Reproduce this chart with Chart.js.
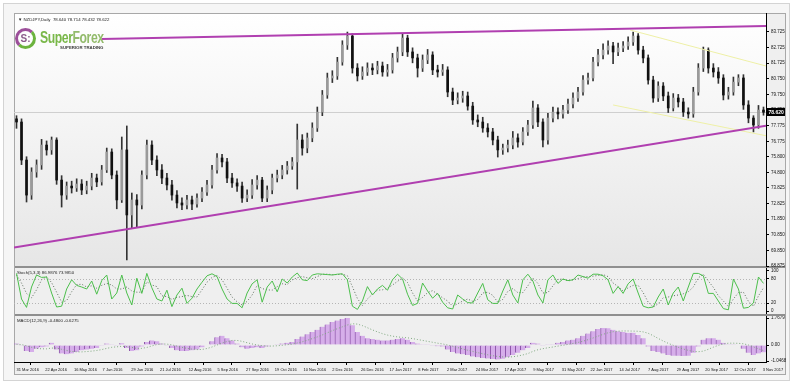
<!DOCTYPE html>
<html>
<head>
<meta charset="utf-8">
<script src="https://cdn.jsdelivr.net/npm/chart.js@4"></script>
<style>
body{margin:0;background:#fff;font-family:"Liberation Sans",Arial,sans-serif;}
#wrap{position:relative;width:800px;height:388px;overflow:hidden;background:#fff}
.abs{position:absolute}
#frame{left:3px;top:3px;width:787px;height:378px;border:1px solid #d4d4d4;background:#f6f6f6;box-sizing:border-box}
#box{left:14px;top:13px;width:772px;height:362px;border:1px solid #a8a8a8;background:#efefef;box-sizing:border-box}
#mainbg{left:15px;top:14px;width:751px;height:252px;background:linear-gradient(#ffffff,#e6e6e6)}
#sep1{left:15px;top:266px;width:770px;height:2px;background:#8f8f8f}
#sep2{left:15px;top:314px;width:770px;height:2px;background:#8f8f8f}
canvas{position:absolute}
.ttl{position:absolute;font-size:6px;color:#222;white-space:nowrap;transform:scale(0.72);transform-origin:left top}
</style>
</head>
<body>
<div id="wrap">
  <div class="abs" id="frame"></div>
  <div class="abs" id="box"></div>
  <div class="abs" id="mainbg"></div>
  <div class="abs" id="sep1"></div>
  <div class="abs" id="sep2"></div>

  <canvas id="cMain" width="772" height="258" style="left:14px;top:13px;width:772px;height:258px"></canvas>
  <canvas id="cStoch" width="772" height="46" style="left:14px;top:268px;width:772px;height:46px"></canvas>
  <canvas id="cMacd" width="772" height="58" style="left:14px;top:316px;width:772px;height:58px"></canvas>

  <div class="ttl" style="left:18px;top:17px">&#9660; NZDJPY,Daily&nbsp; 78.640 78.714 78.432 78.622</div>
  <div class="ttl" style="left:17px;top:270px">Stoch(5,3,3) 86.9876 73.9850</div>
  <div class="ttl" style="left:17px;top:318px">MACD(12,26,9) -0.4800 -0.6275</div>

  <div class="abs" style="left:15px;top:28px">
    <div style="position:absolute;left:0;top:0;width:15px;height:15px;border:3px solid;border-color:#9c4f9a #6cb33e #6cb33e #9c4f9a;border-radius:50%;font:bold 10px 'Liberation Sans';color:#8a5a8a;text-align:center;line-height:15px">S:</div>
    <div style="position:absolute;left:25px;top:0px;font:bold 17px 'Liberation Sans Narrow','Liberation Sans';color:#7ab84a;letter-spacing:-0.6px;transform:scaleX(0.72);transform-origin:left top">Super<span style="color:#93bb6c">Forex</span></div>
    <div style="position:absolute;left:45px;top:17px;font:bold 6px 'Liberation Sans';color:#3a3a3a;white-space:nowrap;transform:scale(0.72);transform-origin:left top">SUPERIOR TRADING</div>
  </div>
</div>

<script>
// NZDJPY daily, sampled about every third session
const firstOpen = 78.20;
const closes = [
  78.00, 75.59, 73.37, 74.83, 75.28, 76.54, 76.23, 76.86, 74.32, 73.37,
  73.94, 73.82, 74.07, 73.69, 73.94, 74.45, 74.20, 74.96, 76.10, 74.64,
  73.06, 76.23, 72.11, 73.06, 72.74, 74.64, 76.54, 75.59, 74.96, 74.45,
  74.01, 73.37, 72.87, 72.74, 73.06, 72.80, 73.18, 73.56, 74.01, 74.96,
  75.72, 75.47, 74.45, 74.14, 73.94, 73.18, 73.37, 74.01, 74.32, 73.18,
  73.69, 74.45, 74.64, 74.96, 75.21, 75.47, 76.86, 76.35, 76.99, 77.62,
  78.63, 79.71, 80.79, 80.92, 81.80, 82.88, 83.45, 81.42, 80.92, 81.17,
  81.42, 81.30, 81.55, 81.17, 81.30, 82.06, 82.44, 83.32, 82.44, 82.06,
  81.42, 81.93, 82.25, 81.30, 81.17, 81.30, 79.90, 79.39, 79.52, 79.65,
  79.01, 78.13, 78.00, 77.62, 77.37, 76.86, 76.23, 76.35, 76.54, 76.99,
  76.73, 77.37, 77.81, 78.89, 78.00, 76.86, 78.25, 78.63, 78.51, 78.76,
  79.14, 79.52, 79.90, 80.66, 80.79, 81.80, 82.25, 82.56, 82.82, 82.44,
  82.69, 82.82, 83.07, 83.45, 82.56, 82.06, 80.66, 79.52, 80.28, 79.65,
  78.89, 79.52, 79.27, 78.63, 78.51, 79.90, 81.42, 82.56, 81.42, 81.17,
  80.79, 79.71, 79.90, 80.53, 80.79, 79.08, 78.25, 77.81, 78.76, 78.62
];
const highs = [
  78.40, 78.20, 75.80, 75.10, 75.60, 76.90, 76.80, 77.05, 77.00, 74.60,
  74.20, 74.25, 74.40, 74.35, 74.25, 74.75, 74.70, 75.25, 76.35, 76.30,
  74.90, 77.05, 77.75, 73.50, 73.40, 74.90, 76.86, 76.80, 75.85, 75.30,
  74.75, 74.30, 73.65, 73.20, 73.35, 73.30, 73.45, 73.85, 74.30, 75.25,
  76.00, 75.95, 75.70, 74.75, 74.40, 74.20, 73.70, 74.35, 74.60, 74.50,
  73.95, 74.70, 74.95, 75.25, 75.50, 75.75, 77.87, 77.20, 77.30, 77.95,
  78.95, 80.00, 81.10, 81.25, 82.10, 83.15, 83.70, 83.60, 81.70, 81.50,
  81.75, 81.70, 81.85, 81.80, 81.65, 82.35, 82.75, 83.58, 83.50, 82.70,
  82.30, 82.25, 82.60, 82.45, 81.60, 81.65, 81.50, 80.15, 79.85, 79.95,
  79.90, 79.25, 78.45, 78.30, 77.90, 77.60, 77.10, 76.60, 76.85, 77.40,
  77.25, 77.65, 78.10, 79.33, 79.10, 78.20, 78.55, 78.95, 78.90, 79.05,
  79.45, 79.85, 80.20, 80.95, 81.10, 82.10, 82.60, 82.95, 83.15, 83.05,
  83.00, 83.10, 83.40, 83.70, 83.60, 82.80, 82.25, 80.90, 80.55, 80.50,
  79.90, 79.80, 79.75, 79.50, 78.90, 80.20, 81.70, 82.75, 82.70, 81.70,
  81.45, 81.00, 80.20, 80.85, 81.00, 81.00, 79.35, 78.40, 79.05, 78.95
];
const lows = [
  77.60, 75.30, 72.93, 73.10, 74.50, 75.00, 75.90, 75.95, 74.05, 72.61,
  73.10, 73.50, 73.60, 73.40, 73.45, 73.70, 73.90, 74.00, 74.80, 74.40,
  72.50, 72.90, 69.26, 71.30, 71.35, 72.50, 74.40, 75.30, 74.60, 74.10,
  73.70, 73.05, 72.55, 72.45, 72.50, 72.45, 72.60, 72.95, 73.35, 73.80,
  74.75, 75.15, 74.15, 73.85, 73.60, 72.90, 72.95, 73.15, 73.75, 72.95,
  72.95, 73.45, 74.20, 74.40, 74.70, 75.00, 73.75, 75.90, 76.05, 76.75,
  77.40, 78.40, 79.50, 80.50, 80.70, 81.60, 82.60, 81.10, 80.60, 80.70,
  80.95, 81.00, 81.05, 80.90, 80.90, 81.10, 81.80, 82.20, 82.15, 81.75,
  80.85, 81.20, 81.70, 81.00, 80.85, 80.95, 79.60, 79.10, 79.15, 79.25,
  78.75, 77.85, 77.70, 77.35, 77.05, 76.55, 75.78, 75.95, 76.10, 76.30,
  76.40, 76.55, 77.15, 77.60, 77.70, 76.42, 76.60, 78.00, 78.20, 78.25,
  78.55, 78.90, 79.30, 79.70, 80.40, 80.60, 81.55, 82.00, 82.30, 81.70,
  82.20, 82.45, 82.60, 82.85, 82.30, 81.75, 80.40, 79.25, 79.30, 79.35,
  78.60, 78.70, 78.95, 78.35, 78.25, 78.30, 79.70, 81.20, 81.10, 80.85,
  80.45, 79.40, 79.45, 79.70, 80.30, 78.80, 77.95, 77.37, 77.60, 78.43
];

const stochMain = [
  94, 30, 9, 60, 90, 84, 85, 45, 10, 12,
  55, 78, 64, 60, 55, 75, 42, 76, 90, 30,
  45, 90, 45, 15, 82, 44, 94, 58, 30, 25,
  52, 11, 40, 57, 19, 32, 55, 72, 88, 93,
  86, 55, 30, 19, 19, 8, 45, 68, 78, 22,
  60, 75, 48, 80, 70, 85, 95, 78, 76, 90,
  93, 92, 91, 90, 92, 93, 78, 12, 4, 25,
  61, 40, 55, 64, 52, 78, 92, 80, 42, 14,
  19, 70, 50, 32, 44, 22, 8, 5, 40, 30,
  21, 20, 45, 69, 28, 19, 19, 50, 78, 40,
  20, 78, 92, 75, 40, 20, 78, 90, 69, 80,
  76, 78, 90, 86, 82, 92, 92, 88, 78, 44,
  61, 44, 68, 80, 45, 12, 8, 10, 35, 55,
  15, 45, 60, 25, 60, 94, 94, 88, 44, 44,
  25, 6, 3, 80, 55, 7, 9, 20, 85, 69
];
const stochSignal = [
  90, 70, 44, 33, 53, 78, 86, 71, 47, 22,
  26, 48, 66, 67, 60, 63, 57, 64, 69, 65,
  55, 55, 60, 50, 47, 47, 73, 65, 61, 38,
  36, 29, 34, 36, 39, 36, 35, 53, 72, 84,
  89, 78, 57, 35, 23, 15, 24, 40, 64, 56,
  53, 52, 61, 68, 66, 78, 83, 86, 83, 81,
  86, 92, 92, 91, 91, 92, 88, 61, 31, 14,
  30, 42, 52, 53, 57, 65, 74, 83, 71, 45,
  25, 34, 46, 51, 42, 33, 25, 12, 18, 25,
  30, 24, 29, 45, 47, 39, 22, 29, 49, 56,
  46, 46, 63, 82, 69, 45, 46, 63, 79, 80,
  75, 78, 81, 85, 86, 87, 89, 91, 86, 70,
  61, 50, 58, 64, 64, 46, 22, 10, 18, 33,
  35, 38, 40, 43, 48, 60, 83, 92, 75, 59,
  38, 25, 11, 30, 46, 47, 24, 12, 38, 58
];

const macdMain = [
  0.10, -0.05, -0.40, -0.45, -0.25, -0.15, -0.10, 0.15, -0.30, -0.55,
  -0.60, -0.55, -0.45, -0.35, -0.30, -0.25, -0.20, -0.05, 0.10, 0.05,
  -0.05, 0.12, -0.20, -0.40, -0.35, -0.10, 0.20, 0.30, 0.25, 0.10,
  -0.05, -0.20, -0.35, -0.40, -0.40, -0.35, -0.30, -0.15, 0.00, 0.25,
  0.50, 0.60, 0.45, 0.30, 0.10, -0.15, -0.25, -0.20, -0.15, -0.20,
  -0.10, 0.00, 0.05, 0.10, 0.15, 0.20, 0.40, 0.55, 0.70, 0.85,
  1.00, 1.20, 1.35, 1.50, 1.60, 1.70, 1.76, 1.30, 0.85, 0.60,
  0.45, 0.40, 0.35, 0.30, 0.30, 0.35, 0.40, 0.45, 0.35, 0.20,
  0.10, 0.05, 0.05, -0.05, -0.08, -0.10, -0.30, -0.45, -0.55, -0.60,
  -0.65, -0.75, -0.80, -0.85, -0.88, -0.92, -0.95, -0.90, -0.80, -0.65,
  -0.50, -0.35, -0.20, 0.15, 0.10, -0.05, 0.02, 0.05, 0.15, 0.20,
  0.30, 0.35, 0.45, 0.60, 0.75, 0.90, 1.05, 1.12, 1.10, 1.00,
  0.90, 0.85, 0.80, 0.80, 0.65, 0.45, -0.10, -0.40, -0.45, -0.55,
  -0.65, -0.70, -0.70, -0.72, -0.70, -0.50, -0.10, 0.35, 0.45, 0.45,
  0.35, 0.15, 0.05, 0.05, 0.00, -0.25, -0.50, -0.65, -0.55, -0.48
];
const macdSignal = [
  0.05, 0.03, -0.05, -0.15, -0.22, -0.25, -0.25, -0.20, -0.20, -0.28,
  -0.36, -0.42, -0.45, -0.45, -0.43, -0.40, -0.36, -0.30, -0.22, -0.15,
  -0.12, -0.08, -0.10, -0.16, -0.22, -0.22, -0.16, -0.06, 0.03, 0.07,
  0.06, 0.01, -0.07, -0.15, -0.22, -0.27, -0.30, -0.29, -0.23, -0.13,
  0.00, 0.13, 0.23, 0.30, 0.30, 0.24, 0.15, 0.07, 0.00, -0.05,
  -0.07, -0.07, -0.05, -0.02, 0.02, 0.06, 0.13, 0.21, 0.31, 0.42,
  0.53, 0.66, 0.80, 0.94, 1.07, 1.19, 1.31, 1.39, 1.37, 1.27,
  1.13, 0.99, 0.86, 0.74, 0.65, 0.58, 0.53, 0.50, 0.47, 0.42,
  0.36, 0.30, 0.24, 0.18, 0.12, 0.07, 0.00, -0.08, -0.17, -0.26,
  -0.34, -0.42, -0.50, -0.57, -0.64, -0.70, -0.75, -0.78, -0.79, -0.77,
  -0.72, -0.65, -0.56, -0.42, -0.31, -0.24, -0.18, -0.13, -0.07, -0.02,
  0.04, 0.10, 0.17, 0.25, 0.35, 0.46, 0.58, 0.70, 0.80, 0.87,
  0.91, 0.92, 0.92, 0.91, 0.90, 0.86, 0.77, 0.61, 0.43, 0.26,
  0.11, -0.02, -0.15, -0.26, -0.35, -0.42, -0.44, -0.40, -0.28, -0.14,
  -0.02, 0.07, 0.12, 0.12, 0.11, 0.08, 0.00, -0.12, -0.25, -0.36
];

// trend lines: [bar index, price]
const upperLine = [[17, 83.26], [149.5, 84.08]];
const supportLine = [[-0.5, 70.04], [149.5, 77.77]];
const channelTop = [[122.4, 83.83], [149.5, 81.55]];
const channelBottom = [[119.0, 79.08], [149.5, 77.13]];

const priceTicks = [83.725, 82.725, 81.725, 80.750, 79.750, 78.750, 77.775, 76.775,
  75.800, 74.800, 73.825, 72.825, 71.850, 70.850, 69.850, 68.875];
const stochTicks = [100, 80, 20, 0];
const stochLevels = [80, 20];
const macdTicks = [1.7679, 0, -1.0468];

const dateLabels = ["31 Mar 2016", "22 Apr 2016", "16 May 2016", "7 Jun 2016", "29 Jun 2016",
  "21 Jul 2016", "12 Aug 2016", "5 Sep 2016", "27 Sep 2016", "19 Oct 2016", "10 Nov 2016",
  "2 Dec 2016", "26 Dec 2016", "17 Jan 2017", "8 Feb 2017", "2 Mar 2017", "24 Mar 2017",
  "17 Apr 2017", "9 May 2017", "31 May 2017", "22 Jun 2017", "14 Jul 2017", "7 Aug 2017",
  "29 Aug 2017", "20 Sep 2017", "12 Oct 2017", "3 Nov 2017"];

const N = closes.length;
const opens = [firstOpen].concat(closes.slice(0, -1));
const idx = closes.map((c, i) => String(i));
const dateStep = 5.725;

Chart.defaults.font.family = "'Liberation Sans', Arial, sans-serif";
Chart.defaults.font.size = 4.5;
Chart.defaults.color = '#111';

const base = {
  responsive: false, maintainAspectRatio: false, animation: false, events: [],
  plugins: { legend: { display: false }, tooltip: { enabled: false } }
};

function rightAxis(min, max, ticks, fmt) {
  return {
    position: 'right', min: min, max: max,
    afterFit(s) { s.width = 20; s.paddingTop = 0; s.paddingBottom = 0; },
    afterBuildTicks(s) { s.ticks = ticks.map(v => ({ value: v })); },
    ticks: { callback: fmt, padding: 2, autoSkip: false, color: '#111', font: { size: 4.5 } },
    grid: { drawOnChartArea: false, tickLength: 3, tickColor: '#000', color: '#000' },
    border: { color: '#000', width: 1 }
  };
}

function lineSet(pts, color, w) {
  return {
    type: 'line', xAxisID: 'xl', yAxisID: 'y', order: 0,
    data: pts.map(p => ({ x: p[0], y: p[1] })),
    borderColor: color, borderWidth: w, pointRadius: 0, fill: false
  };
}

const lastPrice = {
  id: 'lastPrice',
  beforeDatasetsDraw(chart) {
    const c = chart.ctx, a = chart.chartArea;
    const y = Math.round(chart.scales.y.getPixelForValue(closes[N - 1])) + 0.5;
    c.save();
    c.strokeStyle = '#cfcfcf';
    c.lineWidth = 1;
    c.beginPath(); c.moveTo(a.left, y); c.lineTo(a.right, y); c.stroke();
    c.restore();
  },
  afterDraw(chart) {
    const c = chart.ctx, a = chart.chartArea;
    const y = Math.round(chart.scales.y.getPixelForValue(closes[N - 1]));
    c.save();
    c.fillStyle = '#000';
    c.fillRect(a.right + 1, y - 4, 18, 8);
    c.fillStyle = '#fff';
    c.font = "bold 5px 'Liberation Sans', Arial";
    c.textBaseline = 'middle';
    c.fillText(closes[N - 1].toFixed(3), a.right + 2.5, y + 0.5);
    c.restore();
  }
};

new Chart(document.getElementById('cMain'), {
  type: 'bar',
  data: {
    labels: idx,
    datasets: [
      lineSet(upperLine, '#b03fb0', 2),
      lineSet(supportLine, '#b03fb0', 2),
      lineSet(channelTop, '#eef0a6', 1),
      lineSet(channelBottom, '#eef0a6', 1),
      {
        xAxisID: 'x', yAxisID: 'y', order: 2, grouped: false,
        data: lows.map((l, i) => [l, highs[i]]),
        backgroundColor: '#333', barThickness: 1
      },
      {
        xAxisID: 'x', yAxisID: 'y', order: 1, grouped: false,
        data: opens.map((o, i) => [o, closes[i]]),
        backgroundColor: opens.map((o, i) => closes[i] >= o ? '#9a9a9a' : '#111111'),
        borderWidth: 0, barThickness: 2, minBarLength: 1
      }
    ]
  },
  options: Object.assign({}, base, {
    layout: { padding: { top: 0, bottom: 5, left: 0, right: 0 } },
    scales: {
      x: { display: false, offset: true },
      xl: { type: 'linear', display: false, offset: false, min: -0.5, max: N - 0.5 },
      y: rightAxis(68.875, 84.908, priceTicks, v => v.toFixed(3))
    }
  }),
  plugins: [lastPrice]
});

const levels = {
  id: 'levels',
  beforeDatasetsDraw(chart) {
    const c = chart.ctx, a = chart.chartArea;
    c.save();
    c.strokeStyle = '#b5b5b5';
    c.lineWidth = 1;
    c.setLineDash([1, 2]);
    stochLevels.forEach(v => {
      const y = Math.round(chart.scales.y.getPixelForValue(v)) + 0.5;
      c.beginPath(); c.moveTo(a.left, y); c.lineTo(a.right, y); c.stroke();
    });
    c.restore();
  }
};

new Chart(document.getElementById('cStoch'), {
  type: 'line',
  data: {
    labels: idx,
    datasets: [
      { data: stochMain, borderColor: '#4cbf4c', borderWidth: 1, pointRadius: 0, tension: 0 },
      { data: stochSignal, borderColor: '#5d6e5d', borderWidth: 1, borderDash: [1, 2], pointRadius: 0, tension: 0 }
    ]
  },
  options: Object.assign({}, base, {
    layout: { padding: 0 },
    scales: {
      x: { display: false, offset: true },
      y: rightAxis(-7.5, 107.5, stochTicks, v => String(v))
    }
  }),
  plugins: [levels]
});

new Chart(document.getElementById('cMacd'), {
  type: 'bar',
  data: {
    labels: idx,
    datasets: [
      {
        type: 'line', xAxisID: 'x', yAxisID: 'y', order: 0,
        data: macdSignal, borderColor: '#7fa87f', borderWidth: 1, borderDash: [1, 2],
        pointRadius: 0, tension: 0
      },
      {
        xAxisID: 'x', yAxisID: 'y', order: 1,
        data: macdMain, backgroundColor: '#d6aeea', borderColor: '#8d55aa',
        borderWidth: { left: 1, right: 0, top: 0, bottom: 0 }, borderSkipped: false,
        barPercentage: 1, categoryPercentage: 1
      }
    ]
  },
  options: Object.assign({}, base, {
    layout: { padding: 0 },
    scales: {
      x: { display: false, offset: true },
      xd: {
        type: 'linear', position: 'bottom', offset: false, min: -0.5, max: N - 0.5,
        afterFit(s) { s.height = 12; s.paddingLeft = 0; s.paddingRight = 0; },
        afterBuildTicks(s) { s.ticks = dateLabels.map((d, k) => ({ value: k * dateStep })); },
        ticks: { align: 'start', autoSkip: false, maxRotation: 0, padding: 2, color: '#111',
          font: { size: 4 }, callback: (v, i) => dateLabels[i] },
        grid: { drawOnChartArea: false, tickLength: 3, tickColor: '#000', color: '#000' },
        border: { color: '#000' }
      },
      y: rightAxis(-1.112, 1.899, macdTicks, v => v === 0 ? '0.00' : v.toFixed(4))
    }
  })
});
</script>
</body>
</html>
